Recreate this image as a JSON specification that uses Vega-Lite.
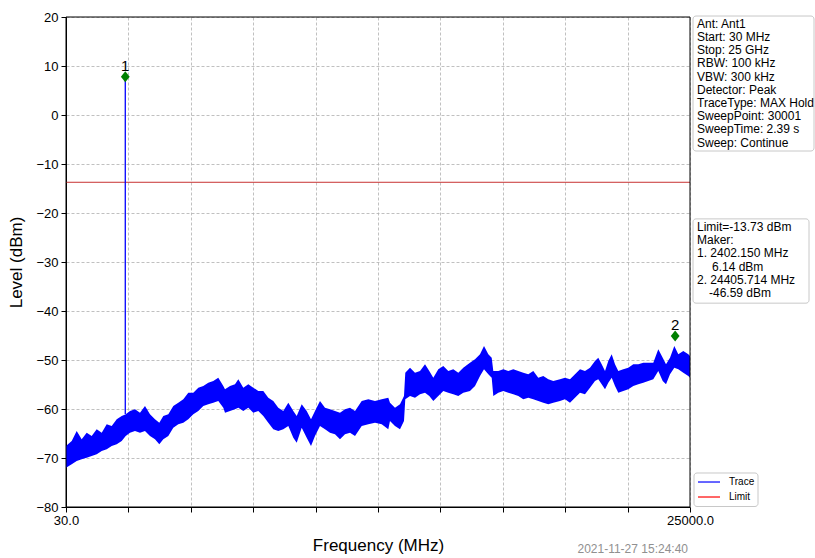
{
  "$schema": "https://vega.github.io/schema/vega-lite/v6.json",
  "background": "white",
  "padding": {"left": 7, "top": 11, "right": 0, "bottom": 0},
  "bounds": "flush",
  "spacing": 0,
  "config": {
    "view": {"stroke": null},
    "font": "Liberation Sans",
    "text": {"font": "Liberation Sans"}
  },
  "hconcat": [
    {
      "width": 624,
      "height": 490,
      "layer": [
        {
          "data": {"values": [
            {"f": 30, "hi": -67.55, "lo": -71.97},
            {"f": 258, "hi": -66.53, "lo": -71.29},
            {"f": 458, "hi": -64.49, "lo": -70.61},
            {"f": 658, "hi": -66.19, "lo": -70.27},
            {"f": 858, "hi": -64.83, "lo": -69.93},
            {"f": 1058, "hi": -65.51, "lo": -69.59},
            {"f": 1258, "hi": -64.15, "lo": -69.25},
            {"f": 1459, "hi": -64.83, "lo": -68.57},
            {"f": 1659, "hi": -63.13, "lo": -68.23},
            {"f": 1859, "hi": -63.47, "lo": -67.55},
            {"f": 2059, "hi": -62.10, "lo": -67.21},
            {"f": 2259, "hi": -61.42, "lo": -66.53},
            {"f": 2419, "hi": -61.08, "lo": -65.51},
            {"f": 2591, "hi": -60.40, "lo": -64.83},
            {"f": 2791, "hi": -60.06, "lo": -64.49},
            {"f": 2991, "hi": -60.74, "lo": -64.83},
            {"f": 3191, "hi": -59.38, "lo": -64.49},
            {"f": 3391, "hi": -61.08, "lo": -65.51},
            {"f": 3591, "hi": -62.10, "lo": -66.19},
            {"f": 3763, "hi": -62.79, "lo": -67.21},
            {"f": 3924, "hi": -61.42, "lo": -66.19},
            {"f": 4124, "hi": -61.08, "lo": -65.51},
            {"f": 4324, "hi": -59.38, "lo": -63.81},
            {"f": 4524, "hi": -58.70, "lo": -63.13},
            {"f": 4724, "hi": -58.02, "lo": -62.79},
            {"f": 4924, "hi": -56.66, "lo": -62.10},
            {"f": 5124, "hi": -56.66, "lo": -61.08},
            {"f": 5324, "hi": -55.64, "lo": -60.40},
            {"f": 5524, "hi": -55.30, "lo": -59.38},
            {"f": 5724, "hi": -54.62, "lo": -59.04},
            {"f": 5924, "hi": -54.28, "lo": -58.70},
            {"f": 6124, "hi": -53.60, "lo": -58.36},
            {"f": 6325, "hi": -55.30, "lo": -59.72},
            {"f": 6393, "hi": -55.98, "lo": -60.74},
            {"f": 6593, "hi": -55.30, "lo": -60.40},
            {"f": 6793, "hi": -54.96, "lo": -60.06},
            {"f": 6925, "hi": -53.94, "lo": -59.72},
            {"f": 7125, "hi": -55.64, "lo": -60.40},
            {"f": 7325, "hi": -54.96, "lo": -59.72},
            {"f": 7525, "hi": -55.64, "lo": -60.74},
            {"f": 7725, "hi": -56.32, "lo": -60.40},
            {"f": 7925, "hi": -56.32, "lo": -61.42},
            {"f": 8125, "hi": -57.68, "lo": -62.79},
            {"f": 8325, "hi": -58.36, "lo": -64.15},
            {"f": 8525, "hi": -59.72, "lo": -64.49},
            {"f": 8725, "hi": -60.40, "lo": -64.15},
            {"f": 8926, "hi": -58.70, "lo": -63.47},
            {"f": 9126, "hi": -60.40, "lo": -65.85},
            {"f": 9262, "hi": -61.42, "lo": -66.87},
            {"f": 9462, "hi": -59.04, "lo": -63.81},
            {"f": 9662, "hi": -60.40, "lo": -65.85},
            {"f": 9834, "hi": -62.10, "lo": -67.55},
            {"f": 9994, "hi": -60.40, "lo": -65.51},
            {"f": 10194, "hi": -58.36, "lo": -63.47},
            {"f": 10394, "hi": -59.72, "lo": -64.15},
            {"f": 10594, "hi": -60.06, "lo": -64.83},
            {"f": 10794, "hi": -60.40, "lo": -65.17},
            {"f": 10994, "hi": -60.74, "lo": -66.19},
            {"f": 11194, "hi": -60.06, "lo": -65.17},
            {"f": 11395, "hi": -59.72, "lo": -64.83},
            {"f": 11595, "hi": -60.40, "lo": -65.51},
            {"f": 11863, "hi": -58.36, "lo": -63.47},
            {"f": 12127, "hi": -58.02, "lo": -63.13},
            {"f": 12395, "hi": -58.36, "lo": -62.79},
            {"f": 12663, "hi": -58.02, "lo": -63.13},
            {"f": 12927, "hi": -57.68, "lo": -64.15},
            {"f": 12995, "hi": -58.71, "lo": -62.45},
            {"f": 13195, "hi": -59.73, "lo": -63.47},
            {"f": 13395, "hi": -59.05, "lo": -64.15},
            {"f": 13555, "hi": -57.35, "lo": -62.45},
            {"f": 13607, "hi": -52.58, "lo": -58.03},
            {"f": 13796, "hi": -51.56, "lo": -57.35},
            {"f": 13996, "hi": -52.58, "lo": -57.69},
            {"f": 14196, "hi": -52.24, "lo": -57.00},
            {"f": 14396, "hi": -50.88, "lo": -56.66},
            {"f": 14568, "hi": -52.24, "lo": -57.35},
            {"f": 14728, "hi": -53.60, "lo": -58.37},
            {"f": 14928, "hi": -51.90, "lo": -57.35},
            {"f": 15128, "hi": -51.22, "lo": -56.32},
            {"f": 15328, "hi": -52.24, "lo": -56.66},
            {"f": 15528, "hi": -51.90, "lo": -57.00},
            {"f": 15728, "hi": -52.58, "lo": -57.35},
            {"f": 15928, "hi": -51.56, "lo": -56.66},
            {"f": 16196, "hi": -50.54, "lo": -56.32},
            {"f": 16397, "hi": -49.86, "lo": -55.30},
            {"f": 16597, "hi": -48.84, "lo": -53.26},
            {"f": 16757, "hi": -47.14, "lo": -51.90},
            {"f": 16929, "hi": -48.84, "lo": -52.92},
            {"f": 17065, "hi": -49.52, "lo": -53.60},
            {"f": 17129, "hi": -52.24, "lo": -57.35},
            {"f": 17329, "hi": -52.24, "lo": -56.66},
            {"f": 17529, "hi": -51.90, "lo": -56.32},
            {"f": 17729, "hi": -52.24, "lo": -56.66},
            {"f": 17929, "hi": -51.90, "lo": -57.00},
            {"f": 18129, "hi": -52.24, "lo": -57.35},
            {"f": 18329, "hi": -52.58, "lo": -58.03},
            {"f": 18529, "hi": -52.92, "lo": -57.69},
            {"f": 18729, "hi": -52.24, "lo": -58.03},
            {"f": 18929, "hi": -53.60, "lo": -58.37},
            {"f": 19130, "hi": -53.26, "lo": -58.71},
            {"f": 19330, "hi": -53.94, "lo": -59.05},
            {"f": 19530, "hi": -54.28, "lo": -58.71},
            {"f": 19798, "hi": -53.94, "lo": -58.37},
            {"f": 19998, "hi": -53.60, "lo": -58.03},
            {"f": 20198, "hi": -53.94, "lo": -58.71},
            {"f": 20398, "hi": -52.92, "lo": -57.69},
            {"f": 20598, "hi": -51.90, "lo": -56.66},
            {"f": 20798, "hi": -52.24, "lo": -57.00},
            {"f": 20998, "hi": -51.56, "lo": -55.64},
            {"f": 21198, "hi": -50.20, "lo": -54.28},
            {"f": 21330, "hi": -49.52, "lo": -53.94},
            {"f": 21466, "hi": -50.88, "lo": -54.96},
            {"f": 21599, "hi": -52.24, "lo": -55.98},
            {"f": 21731, "hi": -50.20, "lo": -54.62},
            {"f": 21867, "hi": -48.84, "lo": -53.60},
            {"f": 21999, "hi": -50.88, "lo": -55.30},
            {"f": 22131, "hi": -52.24, "lo": -56.66},
            {"f": 22331, "hi": -51.90, "lo": -56.32},
            {"f": 22531, "hi": -51.56, "lo": -55.98},
            {"f": 22731, "hi": -50.88, "lo": -55.30},
            {"f": 22931, "hi": -50.88, "lo": -54.96},
            {"f": 23131, "hi": -50.54, "lo": -54.62},
            {"f": 23331, "hi": -50.54, "lo": -54.28},
            {"f": 23531, "hi": -50.54, "lo": -53.94},
            {"f": 23731, "hi": -47.82, "lo": -52.24},
            {"f": 23908, "hi": -49.52, "lo": -54.28},
            {"f": 24040, "hi": -50.88, "lo": -54.96},
            {"f": 24200, "hi": -49.52, "lo": -52.92},
            {"f": 24372, "hi": -47.14, "lo": -51.56},
            {"f": 24532, "hi": -48.84, "lo": -51.90},
            {"f": 24732, "hi": -48.16, "lo": -52.58},
            {"f": 24932, "hi": -48.84, "lo": -53.26},
            {"f": 25000, "hi": -49.18, "lo": -53.60}
          ]},
          "mark": {"type": "area", "color": "#0000ff", "opacity": 1},
          "encoding": {
            "x": {
              "field": "f", "type": "quantitative",
              "scale": {"domain": [30, 25000], "nice": false, "zero": false},
              "axis": {
                "values": [30, 2527, 5024, 7521, 10018, 12515, 15012, 17509, 20006, 22503, 25000],
                "labelExpr": "datum.value == 30 ? '30.0' : (datum.value == 25000 ? '25000.0' : '')",
                "grid": true, "gridDash": [3, 2], "gridColor": "#b0b0b0", "gridWidth": 0.8,
                "domainColor": "black", "tickColor": "black", "tickSize": 5,
                "labelFontSize": 13, "labelColor": "black", "labelPadding": 2,
                "labelFlush": false, "labelOverlap": false,
                "title": "Frequency (MHz)", "titleFontSize": 17, "titleFontWeight": "normal",
                "titleColor": "black", "titlePadding": 10
              }
            },
            "y": {
              "field": "hi", "type": "quantitative",
              "scale": {"domain": [-80, 20], "nice": false, "zero": false},
              "axis": {
                "values": [-80, -70, -60, -50, -40, -30, -20, -10, 0, 10, 20],
                "grid": true, "gridDash": [3, 2], "gridColor": "#b0b0b0", "gridWidth": 0.8,
                "domainColor": "black", "tickColor": "black", "tickSize": 5,
                "labelFontSize": 13, "labelColor": "black", "labelPadding": 3,
                "labelFlush": false, "labelOverlap": false,
                "title": "Level (dBm)", "titleFontSize": 17, "titleFontWeight": "normal",
                "titleColor": "black", "titlePadding": 10
              }
            },
            "y2": {"field": "lo"}
          }
        },
        {
          "data": {"values": [{"limit": -13.73}]},
          "mark": {"type": "rule", "color": "#c83232", "strokeWidth": 1},
          "encoding": {"y": {"field": "limit", "type": "quantitative"}}
        },
        {
          "data": {"values": [{"f": 2402.15, "base": -61, "peak": 7.8}]},
          "mark": {"type": "rule", "color": "#0000ff", "strokeWidth": 1.3},
          "encoding": {
            "x": {"field": "f", "type": "quantitative"},
            "y": {"field": "base", "type": "quantitative"},
            "y2": {"field": "peak"}
          }
        },
        {
          "data": {"values": [
            {"f": 2402.15, "level": 7.8, "label": "1"},
            {"f": 24405.714, "level": -45.1, "label": "2"}
          ]},
          "layer": [
            {
              "mark": {"type": "point", "shape": "M0,-1L0.8,0L0,1L-0.8,0Z", "size": 121, "filled": true, "color": "#008000", "opacity": 1},
              "encoding": {
                "x": {"field": "f", "type": "quantitative"},
                "y": {"field": "level", "type": "quantitative"}
              }
            },
            {
              "mark": {"type": "text", "fontSize": 15, "baseline": "alphabetic", "dy": -6, "color": "black"},
              "encoding": {
                "x": {"field": "f", "type": "quantitative"},
                "y": {"field": "level", "type": "quantitative"},
                "text": {"field": "label"}
              }
            }
          ]
        },
        {
          "data": {"values": [{"x0": 30, "x1": 25000, "y0": -80, "y1": 20}]},
          "mark": {"type": "rect", "fill": null, "fillOpacity": 0, "stroke": "black", "strokeWidth": 1},
          "encoding": {
            "x": {"field": "x0", "type": "quantitative"},
            "x2": {"field": "x1"},
            "y": {"field": "y0", "type": "quantitative"},
            "y2": {"field": "y1"}
          }
        },
        {
          "data": {"values": [{"stamp": "2021-11-27 15:24:40", "f": 25000, "level": -88.57}]},
          "mark": {"type": "text", "fontSize": 12, "color": "#909090", "align": "right", "baseline": "middle", "dx": -2},
          "encoding": {
            "x": {"field": "f", "type": "quantitative"},
            "y": {"field": "level", "type": "quantitative"},
            "text": {"field": "stamp"}
          }
        }
      ]
    },
    {
      "width": 125,
      "height": 490,
      "data": {"values": [{
        "info": "Ant: Ant1\nStart: 30 MHz\nStop: 25 GHz\nRBW: 100 kHz\nVBW: 300 kHz\nDetector: Peak\nTraceType: MAX Hold\nSweepPoint: 30001\nSweepTime: 2.39 s\nSweep: Continue",
        "m1": "Limit=-13.73 dBm\nMaker:\n1. 2402.150 MHz",
        "m1v": "6.14 dBm",
        "m2": "2. 24405.714 MHz",
        "m2v": "-46.59 dBm",
        "trace": "Trace",
        "limit": "Limit"
      }]},
      "layer": [
        {
          "mark": {"type": "rect", "fill": "white", "stroke": "#c8c8c8", "strokeWidth": 1, "cornerRadius": 3},
          "encoding": {
            "x": {"datum": 3, "type": "quantitative", "scale": {"domain": [0, 125], "nice": false, "zero": false}, "axis": null},
            "x2": {"datum": 124},
            "y": {"datum": 20.2, "type": "quantitative", "scale": {"domain": [-80, 20], "nice": false, "zero": false}, "axis": null},
            "y2": {"datum": -7.35}
          }
        },
        {
          "mark": {"type": "text", "fontSize": 12, "lineBreak": "\n", "lineHeight": 13.2, "align": "left", "baseline": "top", "color": "black"},
          "encoding": {
            "x": {"datum": 7, "type": "quantitative"},
            "y": {"datum": 19.65, "type": "quantitative"},
            "text": {"field": "info"}
          }
        },
        {
          "mark": {"type": "rect", "fill": "white", "stroke": "#c8c8c8", "strokeWidth": 1, "cornerRadius": 3},
          "encoding": {
            "x": {"datum": 3, "type": "quantitative"},
            "x2": {"datum": 119},
            "y": {"datum": -21.2, "type": "quantitative"},
            "y2": {"datum": -38.4}
          }
        },
        {
          "mark": {"type": "text", "fontSize": 12, "lineBreak": "\n", "lineHeight": 13.2, "align": "left", "baseline": "top", "color": "black"},
          "encoding": {
            "x": {"datum": 7, "type": "quantitative"},
            "y": {"datum": -21.84, "type": "quantitative"},
            "text": {"field": "m1"}
          }
        },
        {
          "mark": {"type": "text", "fontSize": 12, "align": "left", "baseline": "top", "color": "black"},
          "encoding": {
            "x": {"datum": 22, "type": "quantitative"},
            "y": {"datum": -29.92, "type": "quantitative"},
            "text": {"field": "m1v"}
          }
        },
        {
          "mark": {"type": "text", "fontSize": 12, "align": "left", "baseline": "top", "color": "black"},
          "encoding": {
            "x": {"datum": 7, "type": "quantitative"},
            "y": {"datum": -32.62, "type": "quantitative"},
            "text": {"field": "m2"}
          }
        },
        {
          "mark": {"type": "text", "fontSize": 12, "align": "left", "baseline": "top", "color": "black"},
          "encoding": {
            "x": {"datum": 19, "type": "quantitative"},
            "y": {"datum": -35.31, "type": "quantitative"},
            "text": {"field": "m2v"}
          }
        },
        {
          "mark": {"type": "rect", "fill": "white", "stroke": "#c8c8c8", "strokeWidth": 1, "cornerRadius": 3},
          "encoding": {
            "x": {"datum": 4, "type": "quantitative"},
            "x2": {"datum": 68},
            "y": {"datum": -73.06, "type": "quantitative"},
            "y2": {"datum": -79.9}
          }
        },
        {
          "mark": {"type": "rule", "color": "#0000ff", "strokeWidth": 1.2},
          "encoding": {
            "x": {"datum": 8, "type": "quantitative"},
            "x2": {"datum": 30},
            "y": {"datum": -74.9, "type": "quantitative"}
          }
        },
        {
          "mark": {"type": "rule", "color": "#ff0000", "strokeWidth": 1.2},
          "encoding": {
            "x": {"datum": 8, "type": "quantitative"},
            "x2": {"datum": 30},
            "y": {"datum": -77.96, "type": "quantitative"}
          }
        },
        {
          "mark": {"type": "text", "fontSize": 10, "align": "left", "baseline": "middle", "color": "black"},
          "encoding": {
            "x": {"datum": 39, "type": "quantitative"},
            "y": {"datum": -74.9, "type": "quantitative"},
            "text": {"field": "trace"}
          }
        },
        {
          "mark": {"type": "text", "fontSize": 10, "align": "left", "baseline": "middle", "color": "black"},
          "encoding": {
            "x": {"datum": 39, "type": "quantitative"},
            "y": {"datum": -77.96, "type": "quantitative"},
            "text": {"field": "limit"}
          }
        }
      ]
    }
  ]
}
